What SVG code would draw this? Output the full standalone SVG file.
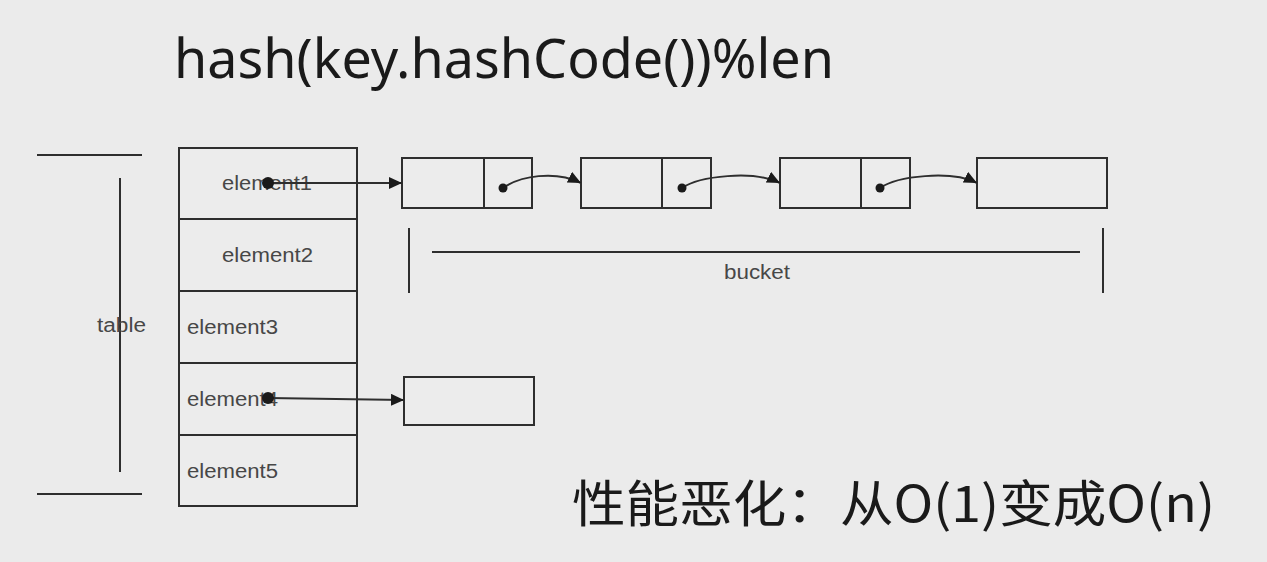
<svg xmlns="http://www.w3.org/2000/svg" width="1267" height="562" viewBox="0 0 1267 562">
<style>
.ln{stroke:#2e2e2e;stroke-width:2;fill:none}
.box{stroke:#2e2e2e;stroke-width:2;fill:#ececec}
.lbl{font-family:"Liberation Sans",Arial,sans-serif;font-size:19.5px;fill:#474747}
.dot{fill:#1a1a1a}
</style>
<defs>
<marker id="ah" markerUnits="userSpaceOnUse" markerWidth="14" markerHeight="12" refX="13" refY="6" orient="auto">
<path d="M0,0 L13,6 L0,12 z" fill="#1a1a1a"/>
</marker>
</defs>
<rect x="0" y="0" width="1267" height="562" fill="#ebebeb"/>
<text x="174" y="78" font-family="'Noto Sans','Open Sans',sans-serif" font-size="54" fill="#1a1a1a" textLength="660" lengthAdjust="spacingAndGlyphs">hash(key.hashCode())%len</text>

<g id="table-bracket">
<line class="ln" x1="37" y1="155" x2="142" y2="155"/>
<line class="ln" x1="37" y1="494" x2="142" y2="494"/>
<line class="ln" x1="120" y1="178" x2="120" y2="472"/>
<text class="lbl" x="97" y="332" textLength="49" lengthAdjust="spacingAndGlyphs">table</text>
</g>

<g id="table">
<rect class="box" x="179" y="148" width="178" height="358"/>
<line class="ln" x1="179" y1="219" x2="357" y2="219"/>
<line class="ln" x1="179" y1="291" x2="357" y2="291"/>
<line class="ln" x1="179" y1="363" x2="357" y2="363"/>
<line class="ln" x1="179" y1="435" x2="357" y2="435"/>
</g>
<g id="element1"><text class="lbl" x="222" y="190" textLength="90" lengthAdjust="spacingAndGlyphs">element1</text></g>
<g id="element2"><text class="lbl" x="222" y="262" textLength="91" lengthAdjust="spacingAndGlyphs">element2</text></g>
<g id="element3"><text class="lbl" x="187" y="334" textLength="91" lengthAdjust="spacingAndGlyphs">element3</text></g>
<g id="element4"><text class="lbl" x="187" y="406" textLength="91" lengthAdjust="spacingAndGlyphs">element4</text></g>
<g id="element5"><text class="lbl" x="187" y="478" textLength="91" lengthAdjust="spacingAndGlyphs">element5</text></g>

<g id="node1"><rect class="box" x="402" y="158" width="130" height="50"/><line class="ln" x1="484" y1="158" x2="484" y2="208"/></g>
<g id="node2"><rect class="box" x="581" y="158" width="130" height="50"/><line class="ln" x1="662" y1="158" x2="662" y2="208"/></g>
<g id="node3"><rect class="box" x="780" y="158" width="130" height="50"/><line class="ln" x1="861" y1="158" x2="861" y2="208"/></g>
<g id="node4"><rect class="box" x="977" y="158" width="130" height="50"/></g>
<g id="node5"><rect class="box" x="404" y="377" width="130" height="48"/></g>

<g id="bucket-bracket">
<line class="ln" x1="409" y1="228" x2="409" y2="293"/>
<line class="ln" x1="1103" y1="228" x2="1103" y2="293"/>
<line class="ln" x1="432" y1="252" x2="1080" y2="252"/>
<text class="lbl" x="724" y="279" textLength="66" lengthAdjust="spacingAndGlyphs">bucket</text>
</g>

<g id="connectors">
<line class="ln" x1="268" y1="183" x2="402" y2="183" marker-end="url(#ah)"/>
<circle class="dot" cx="268" cy="183" r="6"/>
<line class="ln" x1="268" y1="398" x2="404" y2="400" marker-end="url(#ah)"/>
<circle class="dot" cx="268" cy="398" r="6"/>
<path class="ln" d="M503,188 C520,176 555,170 581,183" marker-end="url(#ah)"/>
<circle class="dot" cx="503" cy="188" r="4.5"/>
<path class="ln" d="M682,188 C699,176 754,170 780,183" marker-end="url(#ah)"/>
<circle class="dot" cx="682" cy="188" r="4.5"/>
<path class="ln" d="M880,188 C897,176 951,170 977,183" marker-end="url(#ah)"/>
<circle class="dot" cx="880" cy="188" r="4.5"/>
</g>

<text x="572" y="522" font-family="'Noto Sans CJK SC','Noto Sans',sans-serif" font-size="50" fill="#1a1a1a" textLength="643" lengthAdjust="spacingAndGlyphs">性能恶化：从O(1)变成O(n)</text>
</svg>
